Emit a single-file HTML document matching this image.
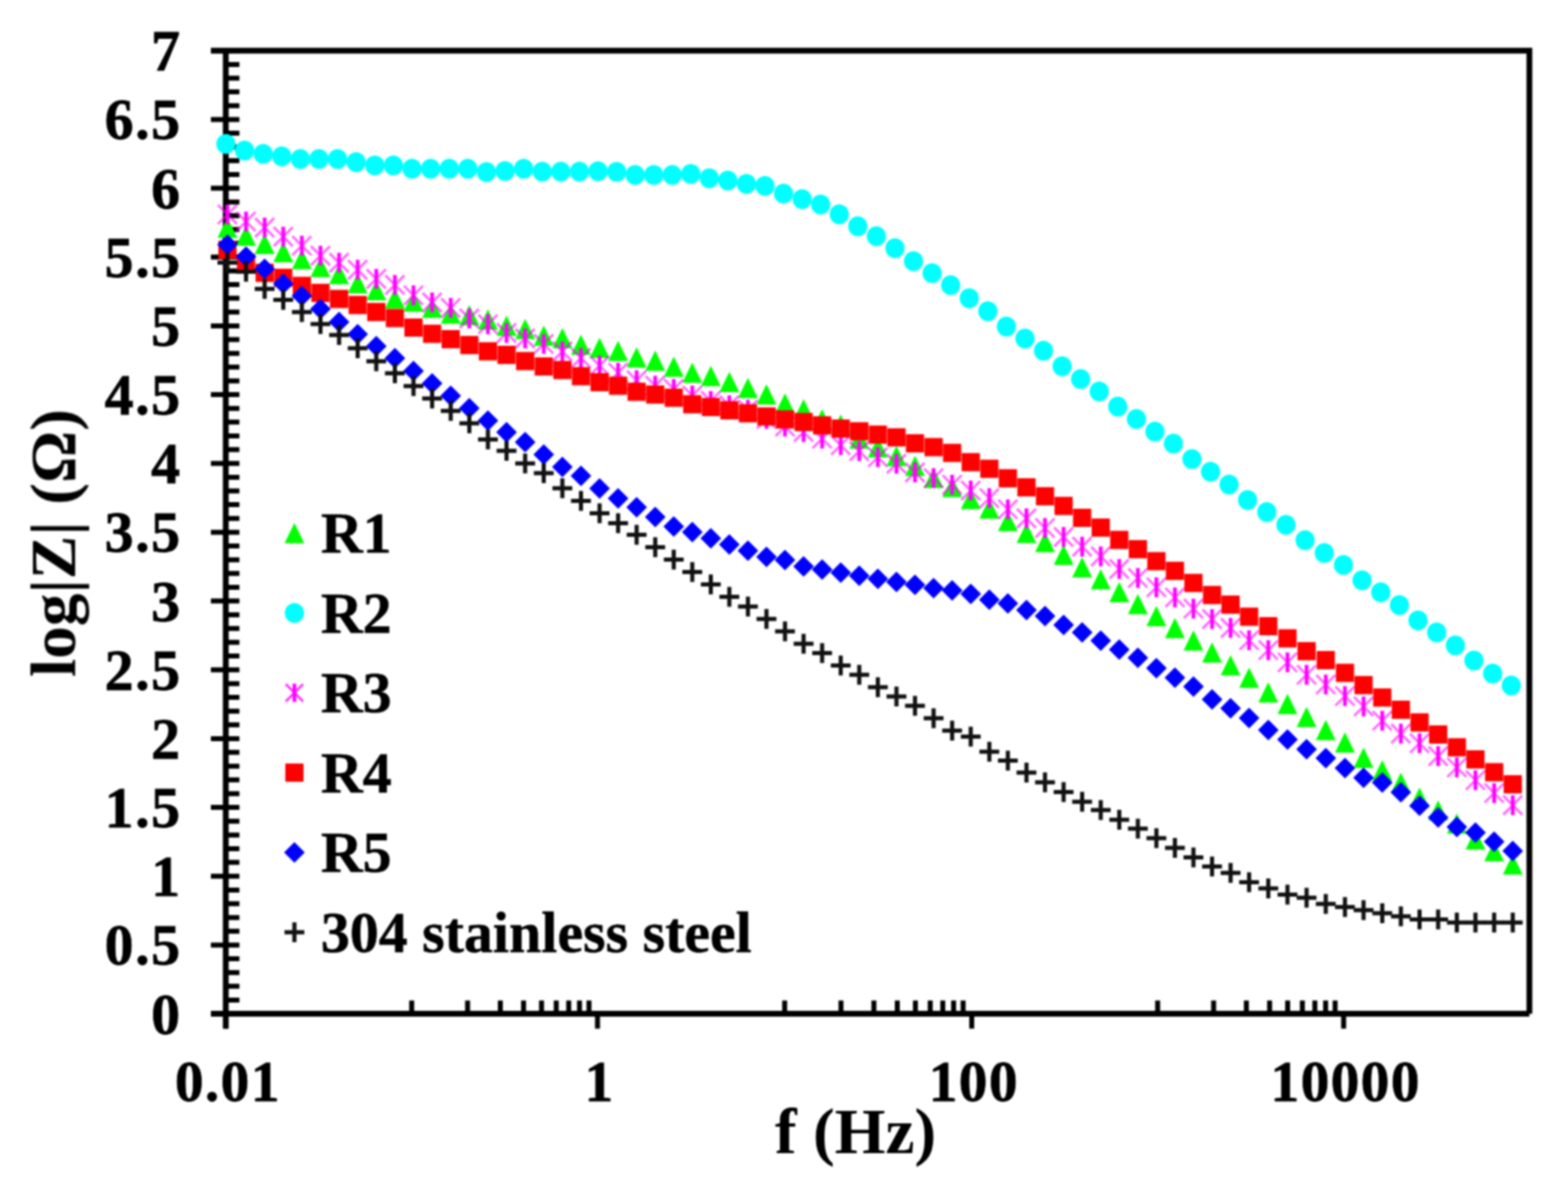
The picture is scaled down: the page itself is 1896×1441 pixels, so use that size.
<!DOCTYPE html>
<html><head><meta charset="utf-8"><title>log|Z| vs f</title>
<style>html,body{margin:0;padding:0;background:#fff;}svg{display:block;}</style>
</head><body>
<svg width="1896" height="1441" viewBox="0 0 1896 1441"><defs><filter id="b" filterUnits="userSpaceOnUse" x="0" y="0" width="1896" height="1441" color-interpolation-filters="sRGB"><feGaussianBlur stdDeviation="1.2"/></filter></defs><rect width="1896" height="1441" fill="#fff"/><g filter="url(#b)"><path d="M255.0 61.2H1849.3V1225.6M255.0 1225.6H1849.3M273.0 61.2V1243.6" stroke="#000" stroke-width="7" fill="none" stroke-linecap="butt"/><path d="M255.0 1225.6H289.5M255.0 1142.4H289.5M255.0 1059.3H289.5M255.0 976.1H289.5M255.0 892.9H289.5M255.0 809.7H289.5M255.0 726.6H289.5M255.0 643.4H289.5M255.0 560.2H289.5M255.0 477.1H289.5M255.0 393.9H289.5M255.0 310.7H289.5M255.0 227.6H289.5M255.0 144.4H289.5M255.0 61.2H289.5M273.0 1209.0H289.5M273.0 1192.3H289.5M273.0 1175.7H289.5M273.0 1159.1H289.5M273.0 1125.8H289.5M273.0 1109.2H289.5M273.0 1092.5H289.5M273.0 1075.9H289.5M273.0 1042.6H289.5M273.0 1026.0H289.5M273.0 1009.4H289.5M273.0 992.7H289.5M273.0 959.5H289.5M273.0 942.8H289.5M273.0 926.2H289.5M273.0 909.6H289.5M273.0 876.3H289.5M273.0 859.7H289.5M273.0 843.0H289.5M273.0 826.4H289.5M273.0 793.1H289.5M273.0 776.5H289.5M273.0 759.8H289.5M273.0 743.2H289.5M273.0 709.9H289.5M273.0 693.3H289.5M273.0 676.7H289.5M273.0 660.0H289.5M273.0 626.8H289.5M273.0 610.1H289.5M273.0 593.5H289.5M273.0 576.9H289.5M273.0 543.6H289.5M273.0 527.0H289.5M273.0 510.3H289.5M273.0 493.7H289.5M273.0 460.4H289.5M273.0 443.8H289.5M273.0 427.2H289.5M273.0 410.5H289.5M273.0 377.3H289.5M273.0 360.6H289.5M273.0 344.0H289.5M273.0 327.4H289.5M273.0 294.1H289.5M273.0 277.5H289.5M273.0 260.8H289.5M273.0 244.2H289.5M273.0 210.9H289.5M273.0 194.3H289.5M273.0 177.7H289.5M273.0 161.0H289.5M273.0 127.8H289.5M273.0 111.1H289.5M273.0 94.5H289.5M273.0 77.9H289.5M273.0 1225.6V1243.6M722.5 1225.6V1243.6M1175.0 1225.6V1243.6M1624.7 1225.6V1243.6M497.8 1225.6V1209.6M565.4 1225.6V1209.6M605.0 1225.6V1209.6M633.1 1225.6V1209.6M654.8 1225.6V1209.6M672.6 1225.6V1209.6M687.7 1225.6V1209.6M700.7 1225.6V1209.6M712.2 1225.6V1209.6M948.8 1225.6V1209.6M1016.9 1225.6V1209.6M1056.7 1225.6V1209.6M1085.0 1225.6V1209.6M1106.9 1225.6V1209.6M1124.8 1225.6V1209.6M1140.0 1225.6V1209.6M1153.1 1225.6V1209.6M1164.6 1225.6V1209.6M1399.8 1225.6V1209.6M1467.5 1225.6V1209.6M1507.1 1225.6V1209.6M1535.2 1225.6V1209.6M1557.0 1225.6V1209.6M1574.8 1225.6V1209.6M1589.9 1225.6V1209.6M1602.9 1225.6V1209.6M1614.4 1225.6V1209.6" stroke="#000" stroke-width="6" fill="none"/><g><path d="M275.0 262.9L287.0 287.4L263.0 287.4Z" fill="#00ff00"/><path d="M297.5 272.6L309.5 297.1L285.5 297.1Z" fill="#00ff00"/><path d="M320.0 282.6L332.0 307.1L308.0 307.1Z" fill="#00ff00"/><path d="M342.5 292.4L354.5 316.9L330.5 316.9Z" fill="#00ff00"/><path d="M365.0 300.9L377.0 325.4L353.0 325.4Z" fill="#00ff00"/><path d="M387.5 310.6L399.5 335.1L375.5 335.1Z" fill="#00ff00"/><path d="M410.0 319.1L422.0 343.6L398.0 343.6Z" fill="#00ff00"/><path d="M432.5 330.1L444.5 354.6L420.5 354.6Z" fill="#00ff00"/><path d="M455.0 338.6L467.0 363.1L443.0 363.1Z" fill="#00ff00"/><path d="M477.5 348.4L489.5 372.9L465.5 372.9Z" fill="#00ff00"/><path d="M500.0 352.2L512.0 376.8L488.0 376.8Z" fill="#00ff00"/><path d="M522.5 359.8L534.5 384.2L510.5 384.2Z" fill="#00ff00"/><path d="M545.0 366.8L557.0 391.2L533.0 391.2Z" fill="#00ff00"/><path d="M567.5 368.8L579.5 393.2L555.5 393.2Z" fill="#00ff00"/><path d="M590.0 374.1L602.0 398.6L578.0 398.6Z" fill="#00ff00"/><path d="M612.5 381.4L624.5 405.9L600.5 405.9Z" fill="#00ff00"/><path d="M635.0 385.4L647.0 409.9L623.0 409.9Z" fill="#00ff00"/><path d="M657.5 393.4L669.5 417.9L645.5 417.9Z" fill="#00ff00"/><path d="M680.0 396.6L692.0 421.1L668.0 421.1Z" fill="#00ff00"/><path d="M702.5 404.6L714.5 429.1L690.5 429.1Z" fill="#00ff00"/><path d="M725.0 408.2L737.0 432.8L713.0 432.8Z" fill="#00ff00"/><path d="M747.4 411.9L759.4 436.4L735.4 436.4Z" fill="#00ff00"/><path d="M769.8 419.8L781.8 444.2L757.8 444.2Z" fill="#00ff00"/><path d="M792.3 423.8L804.3 448.2L780.3 448.2Z" fill="#00ff00"/><path d="M814.7 430.9L826.7 455.4L802.7 455.4Z" fill="#00ff00"/><path d="M837.1 438.2L849.1 462.8L825.1 462.8Z" fill="#00ff00"/><path d="M859.5 442.2L871.5 466.8L847.5 466.8Z" fill="#00ff00"/><path d="M881.9 449.4L893.9 473.9L869.9 473.9Z" fill="#00ff00"/><path d="M904.4 456.8L916.4 481.2L892.4 481.2Z" fill="#00ff00"/><path d="M926.8 464.6L938.8 489.1L914.8 489.1Z" fill="#00ff00"/><path d="M949.2 475.6L961.2 500.1L937.2 500.1Z" fill="#00ff00"/><path d="M971.7 482.6L983.7 507.1L959.7 507.1Z" fill="#00ff00"/><path d="M994.1 494.4L1006.1 519.0L982.1 519.0Z" fill="#00ff00"/><path d="M1016.6 501.0L1028.6 525.5L1004.6 525.5Z" fill="#00ff00"/><path d="M1039.0 518.0L1051.0 542.5L1027.0 542.5Z" fill="#00ff00"/><path d="M1061.5 528.5L1073.5 553.0L1049.5 553.0Z" fill="#00ff00"/><path d="M1084.0 539.1L1096.0 563.6L1072.0 563.6Z" fill="#00ff00"/><path d="M1106.4 551.0L1118.4 575.5L1094.4 575.5Z" fill="#00ff00"/><path d="M1128.9 565.5L1140.9 590.0L1116.9 590.0Z" fill="#00ff00"/><path d="M1151.3 576.6L1163.3 601.1L1139.3 601.1Z" fill="#00ff00"/><path d="M1173.8 591.0L1185.8 615.5L1161.8 615.5Z" fill="#00ff00"/><path d="M1196.3 602.5L1208.3 627.0L1184.3 627.0Z" fill="#00ff00"/><path d="M1218.7 617.8L1230.7 642.2L1206.7 642.2Z" fill="#00ff00"/><path d="M1241.2 632.1L1253.2 656.6L1229.2 656.6Z" fill="#00ff00"/><path d="M1263.6 643.0L1275.6 667.5L1251.6 667.5Z" fill="#00ff00"/><path d="M1286.1 658.4L1298.1 682.9L1274.1 682.9Z" fill="#00ff00"/><path d="M1308.5 673.6L1320.5 698.1L1296.5 698.1Z" fill="#00ff00"/><path d="M1331.0 688.1L1343.0 712.6L1319.0 712.6Z" fill="#00ff00"/><path d="M1353.4 703.5L1365.4 728.0L1341.4 728.0Z" fill="#00ff00"/><path d="M1375.9 717.9L1387.9 742.4L1363.9 742.4Z" fill="#00ff00"/><path d="M1398.3 732.5L1410.3 757.0L1386.3 757.0Z" fill="#00ff00"/><path d="M1420.7 746.9L1432.7 771.4L1408.7 771.4Z" fill="#00ff00"/><path d="M1443.1 762.0L1455.1 786.5L1431.1 786.5Z" fill="#00ff00"/><path d="M1465.6 776.4L1477.6 800.9L1453.6 800.9Z" fill="#00ff00"/><path d="M1488.0 792.0L1500.0 816.5L1476.0 816.5Z" fill="#00ff00"/><path d="M1510.4 807.0L1522.4 831.5L1498.4 831.5Z" fill="#00ff00"/><path d="M1533.6 824.8L1545.6 849.2L1521.6 849.2Z" fill="#00ff00"/><path d="M1556.8 838.8L1568.8 863.2L1544.8 863.2Z" fill="#00ff00"/><path d="M1579.9 854.6L1591.9 879.1L1567.9 879.1Z" fill="#00ff00"/><path d="M1603.1 870.2L1615.1 894.8L1591.1 894.8Z" fill="#00ff00"/><path d="M1626.3 885.2L1638.3 909.8L1614.3 909.8Z" fill="#00ff00"/><path d="M1648.8 903.8L1660.8 928.2L1636.8 928.2Z" fill="#00ff00"/><path d="M1671.4 919.0L1683.4 943.5L1659.4 943.5Z" fill="#00ff00"/><path d="M1693.9 933.9L1705.9 958.4L1681.9 958.4Z" fill="#00ff00"/><path d="M1716.5 952.0L1728.5 976.5L1704.5 976.5Z" fill="#00ff00"/><path d="M1739.0 967.5L1751.0 992.0L1727.0 992.0Z" fill="#00ff00"/><path d="M1761.6 983.2L1773.6 1007.8L1749.6 1007.8Z" fill="#00ff00"/><path d="M1784.1 1002.5L1796.1 1027.0L1772.1 1027.0Z" fill="#00ff00"/><path d="M1806.7 1016.8L1818.7 1041.3L1794.7 1041.3Z" fill="#00ff00"/><path d="M1829.2 1032.8L1841.2 1057.2L1817.2 1057.2Z" fill="#00ff00"/><ellipse cx="273.2" cy="174.0" rx="11.6" ry="12" fill="#00ffff"/><ellipse cx="295.7" cy="182.0" rx="11.6" ry="12" fill="#00ffff"/><ellipse cx="318.2" cy="186.0" rx="11.6" ry="12" fill="#00ffff"/><ellipse cx="340.7" cy="189.0" rx="11.6" ry="12" fill="#00ffff"/><ellipse cx="363.2" cy="192.3" rx="11.6" ry="12" fill="#00ffff"/><ellipse cx="385.7" cy="192.3" rx="11.6" ry="12" fill="#00ffff"/><ellipse cx="408.2" cy="192.3" rx="11.6" ry="12" fill="#00ffff"/><ellipse cx="430.7" cy="196.1" rx="11.6" ry="12" fill="#00ffff"/><ellipse cx="453.2" cy="200.0" rx="11.6" ry="12" fill="#00ffff"/><ellipse cx="475.7" cy="200.0" rx="11.6" ry="12" fill="#00ffff"/><ellipse cx="498.2" cy="204.0" rx="11.6" ry="12" fill="#00ffff"/><ellipse cx="520.7" cy="204.1" rx="11.6" ry="12" fill="#00ffff"/><ellipse cx="543.2" cy="204.1" rx="11.6" ry="12" fill="#00ffff"/><ellipse cx="565.7" cy="204.1" rx="11.6" ry="12" fill="#00ffff"/><ellipse cx="588.2" cy="208.0" rx="11.6" ry="12" fill="#00ffff"/><ellipse cx="610.7" cy="206.7" rx="11.6" ry="12" fill="#00ffff"/><ellipse cx="633.2" cy="204.1" rx="11.6" ry="12" fill="#00ffff"/><ellipse cx="655.7" cy="207.5" rx="11.6" ry="12" fill="#00ffff"/><ellipse cx="678.2" cy="207.5" rx="11.6" ry="12" fill="#00ffff"/><ellipse cx="700.7" cy="207.6" rx="11.6" ry="12" fill="#00ffff"/><ellipse cx="723.2" cy="207.0" rx="11.6" ry="12" fill="#00ffff"/><ellipse cx="745.6" cy="207.8" rx="11.6" ry="12" fill="#00ffff"/><ellipse cx="768.0" cy="211.6" rx="11.6" ry="12" fill="#00ffff"/><ellipse cx="790.5" cy="211.6" rx="11.6" ry="12" fill="#00ffff"/><ellipse cx="812.9" cy="211.6" rx="11.6" ry="12" fill="#00ffff"/><ellipse cx="835.3" cy="210.3" rx="11.6" ry="12" fill="#00ffff"/><ellipse cx="857.7" cy="215.6" rx="11.6" ry="12" fill="#00ffff"/><ellipse cx="880.1" cy="218.2" rx="11.6" ry="12" fill="#00ffff"/><ellipse cx="902.6" cy="222.2" rx="11.6" ry="12" fill="#00ffff"/><ellipse cx="925.0" cy="224.8" rx="11.6" ry="12" fill="#00ffff"/><ellipse cx="947.4" cy="234.1" rx="11.6" ry="12" fill="#00ffff"/><ellipse cx="969.9" cy="240.7" rx="11.6" ry="12" fill="#00ffff"/><ellipse cx="992.3" cy="247.2" rx="11.6" ry="12" fill="#00ffff"/><ellipse cx="1014.8" cy="259.1" rx="11.6" ry="12" fill="#00ffff"/><ellipse cx="1037.2" cy="273.6" rx="11.6" ry="12" fill="#00ffff"/><ellipse cx="1059.7" cy="285.5" rx="11.6" ry="12" fill="#00ffff"/><ellipse cx="1082.2" cy="300.0" rx="11.6" ry="12" fill="#00ffff"/><ellipse cx="1104.6" cy="315.8" rx="11.6" ry="12" fill="#00ffff"/><ellipse cx="1127.1" cy="330.3" rx="11.6" ry="12" fill="#00ffff"/><ellipse cx="1149.5" cy="344.8" rx="11.6" ry="12" fill="#00ffff"/><ellipse cx="1172.0" cy="360.6" rx="11.6" ry="12" fill="#00ffff"/><ellipse cx="1194.5" cy="376.3" rx="11.6" ry="12" fill="#00ffff"/><ellipse cx="1216.9" cy="394.8" rx="11.6" ry="12" fill="#00ffff"/><ellipse cx="1239.4" cy="409.3" rx="11.6" ry="12" fill="#00ffff"/><ellipse cx="1261.8" cy="423.9" rx="11.6" ry="12" fill="#00ffff"/><ellipse cx="1284.3" cy="442.7" rx="11.6" ry="12" fill="#00ffff"/><ellipse cx="1306.7" cy="458.3" rx="11.6" ry="12" fill="#00ffff"/><ellipse cx="1329.2" cy="473.3" rx="11.6" ry="12" fill="#00ffff"/><ellipse cx="1351.6" cy="491.6" rx="11.6" ry="12" fill="#00ffff"/><ellipse cx="1374.1" cy="506.6" rx="11.6" ry="12" fill="#00ffff"/><ellipse cx="1396.5" cy="521.8" rx="11.6" ry="12" fill="#00ffff"/><ellipse cx="1418.9" cy="536.3" rx="11.6" ry="12" fill="#00ffff"/><ellipse cx="1441.3" cy="555.1" rx="11.6" ry="12" fill="#00ffff"/><ellipse cx="1463.8" cy="570.3" rx="11.6" ry="12" fill="#00ffff"/><ellipse cx="1486.2" cy="585.7" rx="11.6" ry="12" fill="#00ffff"/><ellipse cx="1508.6" cy="604.4" rx="11.6" ry="12" fill="#00ffff"/><ellipse cx="1531.8" cy="618.9" rx="11.6" ry="12" fill="#00ffff"/><ellipse cx="1555.0" cy="634.4" rx="11.6" ry="12" fill="#00ffff"/><ellipse cx="1578.1" cy="652.9" rx="11.6" ry="12" fill="#00ffff"/><ellipse cx="1601.3" cy="668.4" rx="11.6" ry="12" fill="#00ffff"/><ellipse cx="1624.5" cy="683.0" rx="11.6" ry="12" fill="#00ffff"/><ellipse cx="1647.0" cy="701.5" rx="11.6" ry="12" fill="#00ffff"/><ellipse cx="1669.6" cy="716.0" rx="11.6" ry="12" fill="#00ffff"/><ellipse cx="1692.1" cy="731.6" rx="11.6" ry="12" fill="#00ffff"/><ellipse cx="1714.7" cy="750.0" rx="11.6" ry="12" fill="#00ffff"/><ellipse cx="1737.2" cy="764.6" rx="11.6" ry="12" fill="#00ffff"/><ellipse cx="1759.8" cy="780.2" rx="11.6" ry="12" fill="#00ffff"/><ellipse cx="1782.3" cy="798.6" rx="11.6" ry="12" fill="#00ffff"/><ellipse cx="1804.9" cy="814.2" rx="11.6" ry="12" fill="#00ffff"/><ellipse cx="1827.4" cy="828.7" rx="11.6" ry="12" fill="#00ffff"/><path d="M263.5 247.8L286.5 270.8M286.5 247.8L263.5 270.8" stroke="#ff00ff" stroke-width="3" fill="none" opacity="0.6"/><path d="M275.0 247.3V271.3" stroke="#ff00ff" stroke-width="4.5" fill="none"/><path d="M286.0 256.3L309.0 279.3M309.0 256.3L286.0 279.3" stroke="#ff00ff" stroke-width="3" fill="none" opacity="0.6"/><path d="M297.5 255.8V279.8" stroke="#ff00ff" stroke-width="4.5" fill="none"/><path d="M308.5 263.6L331.5 286.6M331.5 263.6L308.5 286.6" stroke="#ff00ff" stroke-width="3" fill="none" opacity="0.6"/><path d="M320.0 263.1V287.1" stroke="#ff00ff" stroke-width="4.5" fill="none"/><path d="M331.0 274.6L354.0 297.6M354.0 274.6L331.0 297.6" stroke="#ff00ff" stroke-width="3" fill="none" opacity="0.6"/><path d="M342.5 274.1V298.1" stroke="#ff00ff" stroke-width="4.5" fill="none"/><path d="M353.5 285.5L376.5 308.5M376.5 285.5L353.5 308.5" stroke="#ff00ff" stroke-width="3" fill="none" opacity="0.6"/><path d="M365.0 285.0V309.0" stroke="#ff00ff" stroke-width="4.5" fill="none"/><path d="M376.0 297.6L399.0 320.6M399.0 297.6L376.0 320.6" stroke="#ff00ff" stroke-width="3" fill="none" opacity="0.6"/><path d="M387.5 297.1V321.1" stroke="#ff00ff" stroke-width="4.5" fill="none"/><path d="M398.5 306.1L421.5 329.1M421.5 306.1L398.5 329.1" stroke="#ff00ff" stroke-width="3" fill="none" opacity="0.6"/><path d="M410.0 305.6V329.6" stroke="#ff00ff" stroke-width="4.5" fill="none"/><path d="M421.0 314.6L444.0 337.6M444.0 314.6L421.0 337.6" stroke="#ff00ff" stroke-width="3" fill="none" opacity="0.6"/><path d="M432.5 314.1V338.1" stroke="#ff00ff" stroke-width="4.5" fill="none"/><path d="M443.5 325.6L466.5 348.6M466.5 325.6L443.5 348.6" stroke="#ff00ff" stroke-width="3" fill="none" opacity="0.6"/><path d="M455.0 325.1V349.1" stroke="#ff00ff" stroke-width="4.5" fill="none"/><path d="M466.0 332.9L489.0 355.9M489.0 332.9L466.0 355.9" stroke="#ff00ff" stroke-width="3" fill="none" opacity="0.6"/><path d="M477.5 332.4V356.4" stroke="#ff00ff" stroke-width="4.5" fill="none"/><path d="M488.5 345.5L511.5 368.5M511.5 345.5L488.5 368.5" stroke="#ff00ff" stroke-width="3" fill="none" opacity="0.6"/><path d="M500.0 345.0V369.0" stroke="#ff00ff" stroke-width="4.5" fill="none"/><path d="M511.0 354.1L534.0 377.1M534.0 354.1L511.0 377.1" stroke="#ff00ff" stroke-width="3" fill="none" opacity="0.6"/><path d="M522.5 353.6V377.6" stroke="#ff00ff" stroke-width="4.5" fill="none"/><path d="M533.5 360.7L556.5 383.7M556.5 360.7L533.5 383.7" stroke="#ff00ff" stroke-width="3" fill="none" opacity="0.6"/><path d="M545.0 360.2V384.2" stroke="#ff00ff" stroke-width="4.5" fill="none"/><path d="M556.0 373.5L579.0 396.5M579.0 373.5L556.0 396.5" stroke="#ff00ff" stroke-width="3" fill="none" opacity="0.6"/><path d="M567.5 373.0V397.0" stroke="#ff00ff" stroke-width="4.5" fill="none"/><path d="M578.5 380.5L601.5 403.5M601.5 380.5L578.5 403.5" stroke="#ff00ff" stroke-width="3" fill="none" opacity="0.6"/><path d="M590.0 380.0V404.0" stroke="#ff00ff" stroke-width="4.5" fill="none"/><path d="M601.0 391.0L624.0 414.0M624.0 391.0L601.0 414.0" stroke="#ff00ff" stroke-width="3" fill="none" opacity="0.6"/><path d="M612.5 390.5V414.5" stroke="#ff00ff" stroke-width="4.5" fill="none"/><path d="M623.5 397.6L646.5 420.6M646.5 397.6L623.5 420.6" stroke="#ff00ff" stroke-width="3" fill="none" opacity="0.6"/><path d="M635.0 397.1V421.1" stroke="#ff00ff" stroke-width="4.5" fill="none"/><path d="M646.0 404.2L669.0 427.2M669.0 404.2L646.0 427.2" stroke="#ff00ff" stroke-width="3" fill="none" opacity="0.6"/><path d="M657.5 403.7V427.7" stroke="#ff00ff" stroke-width="4.5" fill="none"/><path d="M668.5 413.4L691.5 436.4M691.5 413.4L668.5 436.4" stroke="#ff00ff" stroke-width="3" fill="none" opacity="0.6"/><path d="M680.0 412.9V436.9" stroke="#ff00ff" stroke-width="4.5" fill="none"/><path d="M691.0 421.3L714.0 444.3M714.0 421.3L691.0 444.3" stroke="#ff00ff" stroke-width="3" fill="none" opacity="0.6"/><path d="M702.5 420.8V444.8" stroke="#ff00ff" stroke-width="4.5" fill="none"/><path d="M713.5 430.5L736.5 453.5M736.5 430.5L713.5 453.5" stroke="#ff00ff" stroke-width="3" fill="none" opacity="0.6"/><path d="M725.0 430.0V454.0" stroke="#ff00ff" stroke-width="4.5" fill="none"/><path d="M735.9 439.0L758.9 462.0M758.9 439.0L735.9 462.0" stroke="#ff00ff" stroke-width="3" fill="none" opacity="0.6"/><path d="M747.4 438.5V462.5" stroke="#ff00ff" stroke-width="4.5" fill="none"/><path d="M758.3 448.2L781.3 471.2M781.3 448.2L758.3 471.2" stroke="#ff00ff" stroke-width="3" fill="none" opacity="0.6"/><path d="M769.8 447.7V471.7" stroke="#ff00ff" stroke-width="4.5" fill="none"/><path d="M780.8 454.8L803.8 477.8M803.8 454.8L780.8 477.8" stroke="#ff00ff" stroke-width="3" fill="none" opacity="0.6"/><path d="M792.3 454.3V478.3" stroke="#ff00ff" stroke-width="4.5" fill="none"/><path d="M803.2 458.8L826.2 481.8M826.2 458.8L803.2 481.8" stroke="#ff00ff" stroke-width="3" fill="none" opacity="0.6"/><path d="M814.7 458.3V482.3" stroke="#ff00ff" stroke-width="4.5" fill="none"/><path d="M825.6 466.7L848.6 489.7M848.6 466.7L825.6 489.7" stroke="#ff00ff" stroke-width="3" fill="none" opacity="0.6"/><path d="M837.1 466.2V490.2" stroke="#ff00ff" stroke-width="4.5" fill="none"/><path d="M848.0 473.3L871.0 496.3M871.0 473.3L848.0 496.3" stroke="#ff00ff" stroke-width="3" fill="none" opacity="0.6"/><path d="M859.5 472.8V496.8" stroke="#ff00ff" stroke-width="4.5" fill="none"/><path d="M870.4 478.5L893.4 501.5M893.4 478.5L870.4 501.5" stroke="#ff00ff" stroke-width="3" fill="none" opacity="0.6"/><path d="M881.9 478.0V502.0" stroke="#ff00ff" stroke-width="4.5" fill="none"/><path d="M892.9 483.8L915.9 506.8M915.9 483.8L892.9 506.8" stroke="#ff00ff" stroke-width="3" fill="none" opacity="0.6"/><path d="M904.4 483.3V507.3" stroke="#ff00ff" stroke-width="4.5" fill="none"/><path d="M915.3 494.9L938.3 517.9M938.3 494.9L915.3 517.9" stroke="#ff00ff" stroke-width="3" fill="none" opacity="0.6"/><path d="M926.8 494.4V518.4" stroke="#ff00ff" stroke-width="4.5" fill="none"/><path d="M937.7 504.2L960.7 527.2M960.7 504.2L937.7 527.2" stroke="#ff00ff" stroke-width="3" fill="none" opacity="0.6"/><path d="M949.2 503.7V527.7" stroke="#ff00ff" stroke-width="4.5" fill="none"/><path d="M960.2 510.8L983.2 533.8M983.2 510.8L960.2 533.8" stroke="#ff00ff" stroke-width="3" fill="none" opacity="0.6"/><path d="M971.7 510.3V534.3" stroke="#ff00ff" stroke-width="4.5" fill="none"/><path d="M982.6 518.8L1005.6 541.8M1005.6 518.8L982.6 541.8" stroke="#ff00ff" stroke-width="3" fill="none" opacity="0.6"/><path d="M994.1 518.3V542.3" stroke="#ff00ff" stroke-width="4.5" fill="none"/><path d="M1005.1 526.7L1028.1 549.7M1028.1 526.7L1005.1 549.7" stroke="#ff00ff" stroke-width="3" fill="none" opacity="0.6"/><path d="M1016.6 526.2V550.2" stroke="#ff00ff" stroke-width="4.5" fill="none"/><path d="M1027.5 533.9L1050.5 556.9M1050.5 533.9L1027.5 556.9" stroke="#ff00ff" stroke-width="3" fill="none" opacity="0.6"/><path d="M1039.0 533.4V557.4" stroke="#ff00ff" stroke-width="4.5" fill="none"/><path d="M1050.0 541.2L1073.0 564.2M1073.0 541.2L1050.0 564.2" stroke="#ff00ff" stroke-width="3" fill="none" opacity="0.6"/><path d="M1061.5 540.7V564.7" stroke="#ff00ff" stroke-width="4.5" fill="none"/><path d="M1072.5 549.1L1095.5 572.1M1095.5 549.1L1072.5 572.1" stroke="#ff00ff" stroke-width="3" fill="none" opacity="0.6"/><path d="M1084.0 548.6V572.6" stroke="#ff00ff" stroke-width="4.5" fill="none"/><path d="M1094.9 559.6L1117.9 582.6M1117.9 559.6L1094.9 582.6" stroke="#ff00ff" stroke-width="3" fill="none" opacity="0.6"/><path d="M1106.4 559.1V583.1" stroke="#ff00ff" stroke-width="4.5" fill="none"/><path d="M1117.4 566.5L1140.4 589.5M1140.4 566.5L1117.4 589.5" stroke="#ff00ff" stroke-width="3" fill="none" opacity="0.6"/><path d="M1128.9 566.0V590.0" stroke="#ff00ff" stroke-width="4.5" fill="none"/><path d="M1139.8 574.5L1162.8 597.5M1162.8 574.5L1139.8 597.5" stroke="#ff00ff" stroke-width="3" fill="none" opacity="0.6"/><path d="M1151.3 574.0V598.0" stroke="#ff00ff" stroke-width="4.5" fill="none"/><path d="M1162.3 581.5L1185.3 604.5M1185.3 581.5L1162.3 604.5" stroke="#ff00ff" stroke-width="3" fill="none" opacity="0.6"/><path d="M1173.8 581.0V605.0" stroke="#ff00ff" stroke-width="4.5" fill="none"/><path d="M1184.8 590.7L1207.8 613.7M1207.8 590.7L1184.8 613.7" stroke="#ff00ff" stroke-width="3" fill="none" opacity="0.6"/><path d="M1196.3 590.2V614.2" stroke="#ff00ff" stroke-width="4.5" fill="none"/><path d="M1207.2 604.3L1230.2 627.3M1230.2 604.3L1207.2 627.3" stroke="#ff00ff" stroke-width="3" fill="none" opacity="0.6"/><path d="M1218.7 603.8V627.8" stroke="#ff00ff" stroke-width="4.5" fill="none"/><path d="M1229.7 615.1L1252.7 638.1M1252.7 615.1L1229.7 638.1" stroke="#ff00ff" stroke-width="3" fill="none" opacity="0.6"/><path d="M1241.2 614.6V638.6" stroke="#ff00ff" stroke-width="4.5" fill="none"/><path d="M1252.1 626.8L1275.1 649.8M1275.1 626.8L1252.1 649.8" stroke="#ff00ff" stroke-width="3" fill="none" opacity="0.6"/><path d="M1263.6 626.3V650.3" stroke="#ff00ff" stroke-width="4.5" fill="none"/><path d="M1274.6 637.6L1297.6 660.6M1297.6 637.6L1274.6 660.6" stroke="#ff00ff" stroke-width="3" fill="none" opacity="0.6"/><path d="M1286.1 637.1V661.1" stroke="#ff00ff" stroke-width="4.5" fill="none"/><path d="M1297.0 649.4L1320.0 672.4M1320.0 649.4L1297.0 672.4" stroke="#ff00ff" stroke-width="3" fill="none" opacity="0.6"/><path d="M1308.5 648.9V672.9" stroke="#ff00ff" stroke-width="4.5" fill="none"/><path d="M1319.5 661.1L1342.5 684.1M1342.5 661.1L1319.5 684.1" stroke="#ff00ff" stroke-width="3" fill="none" opacity="0.6"/><path d="M1331.0 660.6V684.6" stroke="#ff00ff" stroke-width="4.5" fill="none"/><path d="M1341.9 676.4L1364.9 699.4M1364.9 676.4L1341.9 699.4" stroke="#ff00ff" stroke-width="3" fill="none" opacity="0.6"/><path d="M1353.4 675.9V699.9" stroke="#ff00ff" stroke-width="4.5" fill="none"/><path d="M1364.4 687.2L1387.4 710.2M1387.4 687.2L1364.4 710.2" stroke="#ff00ff" stroke-width="3" fill="none" opacity="0.6"/><path d="M1375.9 686.7V710.7" stroke="#ff00ff" stroke-width="4.5" fill="none"/><path d="M1386.8 698.5L1409.8 721.5M1409.8 698.5L1386.8 721.5" stroke="#ff00ff" stroke-width="3" fill="none" opacity="0.6"/><path d="M1398.3 698.0V722.0" stroke="#ff00ff" stroke-width="4.5" fill="none"/><path d="M1409.2 710.7L1432.2 733.7M1432.2 710.7L1409.2 733.7" stroke="#ff00ff" stroke-width="3" fill="none" opacity="0.6"/><path d="M1420.7 710.2V734.2" stroke="#ff00ff" stroke-width="4.5" fill="none"/><path d="M1431.6 724.3L1454.6 747.3M1454.6 724.3L1431.6 747.3" stroke="#ff00ff" stroke-width="3" fill="none" opacity="0.6"/><path d="M1443.1 723.8V747.8" stroke="#ff00ff" stroke-width="4.5" fill="none"/><path d="M1454.1 736.9L1477.1 759.9M1477.1 736.9L1454.1 759.9" stroke="#ff00ff" stroke-width="3" fill="none" opacity="0.6"/><path d="M1465.6 736.4V760.4" stroke="#ff00ff" stroke-width="4.5" fill="none"/><path d="M1476.5 747.6L1499.5 770.6M1499.5 747.6L1476.5 770.6" stroke="#ff00ff" stroke-width="3" fill="none" opacity="0.6"/><path d="M1488.0 747.1V771.1" stroke="#ff00ff" stroke-width="4.5" fill="none"/><path d="M1498.9 762.5L1521.9 785.5M1521.9 762.5L1498.9 785.5" stroke="#ff00ff" stroke-width="3" fill="none" opacity="0.6"/><path d="M1510.4 762.0V786.0" stroke="#ff00ff" stroke-width="4.5" fill="none"/><path d="M1522.1 774.5L1545.1 797.5M1545.1 774.5L1522.1 797.5" stroke="#ff00ff" stroke-width="3" fill="none" opacity="0.6"/><path d="M1533.6 774.0V798.0" stroke="#ff00ff" stroke-width="4.5" fill="none"/><path d="M1545.3 789.2L1568.3 812.2M1568.3 789.2L1545.3 812.2" stroke="#ff00ff" stroke-width="3" fill="none" opacity="0.6"/><path d="M1556.8 788.7V812.7" stroke="#ff00ff" stroke-width="4.5" fill="none"/><path d="M1568.4 804.2L1591.4 827.2M1591.4 804.2L1568.4 827.2" stroke="#ff00ff" stroke-width="3" fill="none" opacity="0.6"/><path d="M1579.9 803.7V827.7" stroke="#ff00ff" stroke-width="4.5" fill="none"/><path d="M1591.6 816.0L1614.6 839.0M1614.6 816.0L1591.6 839.0" stroke="#ff00ff" stroke-width="3" fill="none" opacity="0.6"/><path d="M1603.1 815.5V839.5" stroke="#ff00ff" stroke-width="4.5" fill="none"/><path d="M1614.8 830.0L1637.8 853.0M1637.8 830.0L1614.8 853.0" stroke="#ff00ff" stroke-width="3" fill="none" opacity="0.6"/><path d="M1626.3 829.5V853.5" stroke="#ff00ff" stroke-width="4.5" fill="none"/><path d="M1637.3 842.5L1660.3 865.5M1660.3 842.5L1637.3 865.5" stroke="#ff00ff" stroke-width="3" fill="none" opacity="0.6"/><path d="M1648.8 842.0V866.0" stroke="#ff00ff" stroke-width="4.5" fill="none"/><path d="M1659.9 859.8L1682.9 882.8M1682.9 859.8L1659.9 882.8" stroke="#ff00ff" stroke-width="3" fill="none" opacity="0.6"/><path d="M1671.4 859.3V883.3" stroke="#ff00ff" stroke-width="4.5" fill="none"/><path d="M1682.4 875.4L1705.4 898.4M1705.4 875.4L1682.4 898.4" stroke="#ff00ff" stroke-width="3" fill="none" opacity="0.6"/><path d="M1693.9 874.9V898.9" stroke="#ff00ff" stroke-width="4.5" fill="none"/><path d="M1705.0 887.0L1728.0 910.0M1728.0 887.0L1705.0 910.0" stroke="#ff00ff" stroke-width="3" fill="none" opacity="0.6"/><path d="M1716.5 886.5V910.5" stroke="#ff00ff" stroke-width="4.5" fill="none"/><path d="M1727.5 902.6L1750.5 925.6M1750.5 902.6L1727.5 925.6" stroke="#ff00ff" stroke-width="3" fill="none" opacity="0.6"/><path d="M1739.0 902.1V926.1" stroke="#ff00ff" stroke-width="4.5" fill="none"/><path d="M1750.1 916.2L1773.1 939.2M1773.1 916.2L1750.1 939.2" stroke="#ff00ff" stroke-width="3" fill="none" opacity="0.6"/><path d="M1761.6 915.7V939.7" stroke="#ff00ff" stroke-width="4.5" fill="none"/><path d="M1772.6 931.7L1795.6 954.7M1795.6 931.7L1772.6 954.7" stroke="#ff00ff" stroke-width="3" fill="none" opacity="0.6"/><path d="M1784.1 931.2V955.2" stroke="#ff00ff" stroke-width="4.5" fill="none"/><path d="M1795.2 947.3L1818.2 970.3M1818.2 947.3L1795.2 970.3" stroke="#ff00ff" stroke-width="3" fill="none" opacity="0.6"/><path d="M1806.7 946.8V970.8" stroke="#ff00ff" stroke-width="4.5" fill="none"/><path d="M1817.7 961.9L1840.7 984.9M1840.7 961.9L1817.7 984.9" stroke="#ff00ff" stroke-width="3" fill="none" opacity="0.6"/><path d="M1829.2 961.4V985.4" stroke="#ff00ff" stroke-width="4.5" fill="none"/><rect x="264.0" y="291.0" width="22" height="22" fill="#ff0000"/><rect x="286.5" y="307.0" width="22" height="22" fill="#ff0000"/><rect x="309.0" y="318.8" width="22" height="22" fill="#ff0000"/><rect x="331.5" y="324.9" width="22" height="22" fill="#ff0000"/><rect x="354.0" y="334.6" width="22" height="22" fill="#ff0000"/><rect x="376.5" y="343.1" width="22" height="22" fill="#ff0000"/><rect x="399.0" y="350.4" width="22" height="22" fill="#ff0000"/><rect x="421.5" y="357.7" width="22" height="22" fill="#ff0000"/><rect x="444.0" y="366.2" width="22" height="22" fill="#ff0000"/><rect x="466.5" y="373.5" width="22" height="22" fill="#ff0000"/><rect x="489.0" y="385.0" width="22" height="22" fill="#ff0000"/><rect x="511.5" y="392.5" width="22" height="22" fill="#ff0000"/><rect x="534.0" y="399.0" width="22" height="22" fill="#ff0000"/><rect x="556.5" y="406.1" width="22" height="22" fill="#ff0000"/><rect x="579.0" y="413.7" width="22" height="22" fill="#ff0000"/><rect x="601.5" y="418.0" width="22" height="22" fill="#ff0000"/><rect x="624.0" y="425.5" width="22" height="22" fill="#ff0000"/><rect x="646.5" y="432.0" width="22" height="22" fill="#ff0000"/><rect x="669.0" y="436.3" width="22" height="22" fill="#ff0000"/><rect x="691.5" y="443.8" width="22" height="22" fill="#ff0000"/><rect x="714.0" y="451.0" width="22" height="22" fill="#ff0000"/><rect x="736.4" y="455.3" width="22" height="22" fill="#ff0000"/><rect x="758.8" y="462.6" width="22" height="22" fill="#ff0000"/><rect x="781.3" y="465.9" width="22" height="22" fill="#ff0000"/><rect x="803.7" y="469.8" width="22" height="22" fill="#ff0000"/><rect x="826.1" y="477.7" width="22" height="22" fill="#ff0000"/><rect x="848.5" y="481.0" width="22" height="22" fill="#ff0000"/><rect x="870.9" y="485.0" width="22" height="22" fill="#ff0000"/><rect x="893.4" y="488.6" width="22" height="22" fill="#ff0000"/><rect x="915.8" y="492.5" width="22" height="22" fill="#ff0000"/><rect x="938.2" y="496.0" width="22" height="22" fill="#ff0000"/><rect x="960.7" y="499.2" width="22" height="22" fill="#ff0000"/><rect x="983.1" y="503.2" width="22" height="22" fill="#ff0000"/><rect x="1005.6" y="507.1" width="22" height="22" fill="#ff0000"/><rect x="1028.0" y="510.4" width="22" height="22" fill="#ff0000"/><rect x="1050.5" y="514.4" width="22" height="22" fill="#ff0000"/><rect x="1073.0" y="517.7" width="22" height="22" fill="#ff0000"/><rect x="1095.4" y="524.9" width="22" height="22" fill="#ff0000"/><rect x="1117.9" y="529.5" width="22" height="22" fill="#ff0000"/><rect x="1140.3" y="536.5" width="22" height="22" fill="#ff0000"/><rect x="1162.8" y="547.7" width="22" height="22" fill="#ff0000"/><rect x="1185.3" y="555.7" width="22" height="22" fill="#ff0000"/><rect x="1207.7" y="567.2" width="22" height="22" fill="#ff0000"/><rect x="1230.2" y="578.1" width="22" height="22" fill="#ff0000"/><rect x="1252.6" y="588.9" width="22" height="22" fill="#ff0000"/><rect x="1275.1" y="600.6" width="22" height="22" fill="#ff0000"/><rect x="1297.5" y="615.0" width="22" height="22" fill="#ff0000"/><rect x="1320.0" y="626.8" width="22" height="22" fill="#ff0000"/><rect x="1342.4" y="641.7" width="22" height="22" fill="#ff0000"/><rect x="1364.9" y="652.9" width="22" height="22" fill="#ff0000"/><rect x="1387.3" y="667.4" width="22" height="22" fill="#ff0000"/><rect x="1409.7" y="679.1" width="22" height="22" fill="#ff0000"/><rect x="1432.1" y="693.7" width="22" height="22" fill="#ff0000"/><rect x="1454.6" y="708.3" width="22" height="22" fill="#ff0000"/><rect x="1477.0" y="719.9" width="22" height="22" fill="#ff0000"/><rect x="1499.4" y="734.5" width="22" height="22" fill="#ff0000"/><rect x="1522.6" y="746.0" width="22" height="22" fill="#ff0000"/><rect x="1545.8" y="760.7" width="22" height="22" fill="#ff0000"/><rect x="1568.9" y="776.2" width="22" height="22" fill="#ff0000"/><rect x="1592.1" y="787.0" width="22" height="22" fill="#ff0000"/><rect x="1615.3" y="802.4" width="22" height="22" fill="#ff0000"/><rect x="1637.8" y="817.2" width="22" height="22" fill="#ff0000"/><rect x="1660.4" y="832.2" width="22" height="22" fill="#ff0000"/><rect x="1682.9" y="847.0" width="22" height="22" fill="#ff0000"/><rect x="1705.5" y="862.3" width="22" height="22" fill="#ff0000"/><rect x="1728.0" y="876.9" width="22" height="22" fill="#ff0000"/><rect x="1750.6" y="892.4" width="22" height="22" fill="#ff0000"/><rect x="1773.1" y="907.0" width="22" height="22" fill="#ff0000"/><rect x="1795.7" y="922.5" width="22" height="22" fill="#ff0000"/><rect x="1818.2" y="937.1" width="22" height="22" fill="#ff0000"/><path d="M275.0 283.3L287.5 295.8L275.0 308.3L262.5 295.8Z" fill="#0000ff"/><path d="M297.5 297.8L310.0 310.3L297.5 322.8L285.0 310.3Z" fill="#0000ff"/><path d="M320.0 312.4L332.5 324.9L320.0 337.4L307.5 324.9Z" fill="#0000ff"/><path d="M342.5 330.6L355.0 343.1L342.5 355.6L330.0 343.1Z" fill="#0000ff"/><path d="M365.0 345.2L377.5 357.7L365.0 370.2L352.5 357.7Z" fill="#0000ff"/><path d="M387.5 361.0L400.0 373.5L387.5 386.0L375.0 373.5Z" fill="#0000ff"/><path d="M410.0 376.8L422.5 389.3L410.0 401.8L397.5 389.3Z" fill="#0000ff"/><path d="M432.5 391.4L445.0 403.9L432.5 416.4L420.0 403.9Z" fill="#0000ff"/><path d="M455.0 406.0L467.5 418.5L455.0 431.0L442.5 418.5Z" fill="#0000ff"/><path d="M477.5 420.5L490.0 433.0L477.5 445.5L465.0 433.0Z" fill="#0000ff"/><path d="M500.0 436.0L512.5 448.5L500.0 461.0L487.5 448.5Z" fill="#0000ff"/><path d="M522.5 450.9L535.0 463.4L522.5 475.9L510.0 463.4Z" fill="#0000ff"/><path d="M545.0 466.0L557.5 478.5L545.0 491.0L532.5 478.5Z" fill="#0000ff"/><path d="M567.5 481.0L580.0 493.5L567.5 506.0L555.0 493.5Z" fill="#0000ff"/><path d="M590.0 496.1L602.5 508.6L590.0 521.1L577.5 508.6Z" fill="#0000ff"/><path d="M612.5 510.1L625.0 522.6L612.5 535.1L600.0 522.6Z" fill="#0000ff"/><path d="M635.0 521.9L647.5 534.4L635.0 546.9L622.5 534.4Z" fill="#0000ff"/><path d="M657.5 537.0L670.0 549.5L657.5 562.0L645.0 549.5Z" fill="#0000ff"/><path d="M680.0 552.0L692.5 564.5L680.0 577.0L667.5 564.5Z" fill="#0000ff"/><path d="M702.5 562.8L715.0 575.3L702.5 587.8L690.0 575.3Z" fill="#0000ff"/><path d="M725.0 578.0L737.5 590.5L725.0 603.0L712.5 590.5Z" fill="#0000ff"/><path d="M747.4 590.0L759.9 602.5L747.4 615.0L734.9 602.5Z" fill="#0000ff"/><path d="M769.8 600.8L782.3 613.3L769.8 625.8L757.3 613.3Z" fill="#0000ff"/><path d="M792.3 612.5L804.8 625.0L792.3 637.5L779.8 625.0Z" fill="#0000ff"/><path d="M814.7 624.1L827.2 636.6L814.7 649.1L802.2 636.6Z" fill="#0000ff"/><path d="M837.1 630.8L849.6 643.3L837.1 655.8L824.6 643.3Z" fill="#0000ff"/><path d="M859.5 638.3L872.0 650.8L859.5 663.3L847.0 650.8Z" fill="#0000ff"/><path d="M881.9 645.8L894.4 658.3L881.9 670.8L869.4 658.3Z" fill="#0000ff"/><path d="M904.4 653.3L916.9 665.8L904.4 678.3L891.9 665.8Z" fill="#0000ff"/><path d="M926.8 660.8L939.3 673.3L926.8 685.8L914.3 673.3Z" fill="#0000ff"/><path d="M949.2 664.5L961.7 677.0L949.2 689.5L936.7 677.0Z" fill="#0000ff"/><path d="M971.7 672.2L984.2 684.7L971.7 697.2L959.2 684.7Z" fill="#0000ff"/><path d="M994.1 675.9L1006.6 688.4L994.1 700.9L981.6 688.4Z" fill="#0000ff"/><path d="M1016.6 679.7L1029.1 692.2L1016.6 704.7L1004.1 692.2Z" fill="#0000ff"/><path d="M1039.0 683.4L1051.5 695.9L1039.0 708.4L1026.5 695.9Z" fill="#0000ff"/><path d="M1061.5 687.2L1074.0 699.7L1061.5 712.2L1049.0 699.7Z" fill="#0000ff"/><path d="M1084.0 690.9L1096.5 703.4L1084.0 715.9L1071.5 703.4Z" fill="#0000ff"/><path d="M1106.4 694.6L1118.9 707.1L1106.4 719.6L1093.9 707.1Z" fill="#0000ff"/><path d="M1128.9 698.4L1141.4 710.9L1128.9 723.4L1116.4 710.9Z" fill="#0000ff"/><path d="M1151.3 701.2L1163.8 713.7L1151.3 726.2L1138.8 713.7Z" fill="#0000ff"/><path d="M1173.8 705.5L1186.3 718.0L1173.8 730.5L1161.3 718.0Z" fill="#0000ff"/><path d="M1196.3 712.4L1208.8 724.9L1196.3 737.4L1183.8 724.9Z" fill="#0000ff"/><path d="M1218.7 716.9L1231.2 729.4L1218.7 741.9L1206.2 729.4Z" fill="#0000ff"/><path d="M1241.2 725.0L1253.7 737.5L1241.2 750.0L1228.7 737.5Z" fill="#0000ff"/><path d="M1263.6 732.2L1276.1 744.7L1263.6 757.2L1251.1 744.7Z" fill="#0000ff"/><path d="M1286.1 743.0L1298.6 755.5L1286.1 768.0L1273.6 755.5Z" fill="#0000ff"/><path d="M1308.5 752.0L1321.0 764.5L1308.5 777.0L1296.0 764.5Z" fill="#0000ff"/><path d="M1331.0 762.0L1343.5 774.5L1331.0 787.0L1318.5 774.5Z" fill="#0000ff"/><path d="M1353.4 772.8L1365.9 785.3L1353.4 797.8L1340.9 785.3Z" fill="#0000ff"/><path d="M1375.9 782.7L1388.4 795.2L1375.9 807.7L1363.4 795.2Z" fill="#0000ff"/><path d="M1398.3 795.3L1410.8 807.8L1398.3 820.3L1385.8 807.8Z" fill="#0000ff"/><path d="M1420.7 806.8L1433.2 819.3L1420.7 831.8L1408.2 819.3Z" fill="#0000ff"/><path d="M1443.1 817.5L1455.6 830.0L1443.1 842.5L1430.6 830.0Z" fill="#0000ff"/><path d="M1465.6 833.0L1478.1 845.5L1465.6 858.0L1453.1 845.5Z" fill="#0000ff"/><path d="M1488.0 843.7L1500.5 856.2L1488.0 868.7L1475.5 856.2Z" fill="#0000ff"/><path d="M1510.4 855.4L1522.9 867.9L1510.4 880.4L1497.9 867.9Z" fill="#0000ff"/><path d="M1533.6 870.0L1546.1 882.5L1533.6 895.0L1521.1 882.5Z" fill="#0000ff"/><path d="M1556.8 881.6L1569.3 894.1L1556.8 906.6L1544.3 894.1Z" fill="#0000ff"/><path d="M1579.9 893.3L1592.4 905.8L1579.9 918.3L1567.4 905.8Z" fill="#0000ff"/><path d="M1603.1 904.0L1615.6 916.5L1603.1 929.0L1590.6 916.5Z" fill="#0000ff"/><path d="M1626.3 915.9L1638.8 928.4L1626.3 940.9L1613.8 928.4Z" fill="#0000ff"/><path d="M1648.8 927.8L1661.3 940.3L1648.8 952.8L1636.3 940.3Z" fill="#0000ff"/><path d="M1671.4 933.6L1683.9 946.1L1671.4 958.6L1658.9 946.1Z" fill="#0000ff"/><path d="M1693.9 945.3L1706.4 957.8L1693.9 970.3L1681.4 957.8Z" fill="#0000ff"/><path d="M1716.5 961.5L1729.0 974.0L1716.5 986.5L1704.0 974.0Z" fill="#0000ff"/><path d="M1739.0 975.8L1751.5 988.3L1739.0 1000.8L1726.5 988.3Z" fill="#0000ff"/><path d="M1761.6 987.3L1774.1 999.8L1761.6 1012.3L1749.1 999.8Z" fill="#0000ff"/><path d="M1784.1 993.9L1796.6 1006.4L1784.1 1018.9L1771.6 1006.4Z" fill="#0000ff"/><path d="M1806.7 1004.9L1819.2 1017.4L1806.7 1029.9L1794.2 1017.4Z" fill="#0000ff"/><path d="M1829.2 1016.3L1841.7 1028.8L1829.2 1041.3L1816.7 1028.8Z" fill="#0000ff"/><path d="M263.0 317.6H287.0M275.0 305.6V329.6" stroke="#111" stroke-width="5" fill="none"/><path d="M285.5 328.6H309.5M297.5 316.6V340.6" stroke="#111" stroke-width="5" fill="none"/><path d="M308.0 349.2H332.0M320.0 337.2V361.2" stroke="#111" stroke-width="5" fill="none"/><path d="M330.5 362.6H354.5M342.5 350.6V374.6" stroke="#111" stroke-width="5" fill="none"/><path d="M353.0 377.2H377.0M365.0 365.2V389.2" stroke="#111" stroke-width="5" fill="none"/><path d="M375.5 391.7H399.5M387.5 379.7V403.7" stroke="#111" stroke-width="5" fill="none"/><path d="M398.0 405.1H422.0M410.0 393.1V417.1" stroke="#111" stroke-width="5" fill="none"/><path d="M420.5 420.9H444.5M432.5 408.9V432.9" stroke="#111" stroke-width="5" fill="none"/><path d="M443.0 436.7H467.0M455.0 424.7V448.7" stroke="#111" stroke-width="5" fill="none"/><path d="M465.5 451.3H489.5M477.5 439.3V463.3" stroke="#111" stroke-width="5" fill="none"/><path d="M488.0 466.8H512.0M500.0 454.8V478.8" stroke="#111" stroke-width="5" fill="none"/><path d="M510.5 481.7H534.5M522.5 469.7V493.7" stroke="#111" stroke-width="5" fill="none"/><path d="M533.0 496.7H557.0M545.0 484.7V508.7" stroke="#111" stroke-width="5" fill="none"/><path d="M555.5 511.8H579.5M567.5 499.8V523.8" stroke="#111" stroke-width="5" fill="none"/><path d="M578.0 531.2H602.0M590.0 519.2V543.2" stroke="#111" stroke-width="5" fill="none"/><path d="M600.5 545.1H624.5M612.5 533.1V557.1" stroke="#111" stroke-width="5" fill="none"/><path d="M623.0 560.2H647.0M635.0 548.2V572.2" stroke="#111" stroke-width="5" fill="none"/><path d="M645.5 572.0H669.5M657.5 560.0V584.0" stroke="#111" stroke-width="5" fill="none"/><path d="M668.0 590.3H692.0M680.0 578.3V602.3" stroke="#111" stroke-width="5" fill="none"/><path d="M690.5 605.4H714.5M702.5 593.4V617.4" stroke="#111" stroke-width="5" fill="none"/><path d="M713.0 620.6H737.0M725.0 608.6V632.6" stroke="#111" stroke-width="5" fill="none"/><path d="M735.4 632.5H759.4M747.4 620.5V644.5" stroke="#111" stroke-width="5" fill="none"/><path d="M757.8 646.6H781.8M769.8 634.6V658.6" stroke="#111" stroke-width="5" fill="none"/><path d="M780.3 661.6H804.3M792.3 649.6V673.6" stroke="#111" stroke-width="5" fill="none"/><path d="M802.7 676.6H826.7M814.7 664.6V688.6" stroke="#111" stroke-width="5" fill="none"/><path d="M825.1 691.6H849.1M837.1 679.6V703.6" stroke="#111" stroke-width="5" fill="none"/><path d="M847.5 706.6H871.5M859.5 694.6V718.6" stroke="#111" stroke-width="5" fill="none"/><path d="M869.9 721.6H893.9M881.9 709.6V733.6" stroke="#111" stroke-width="5" fill="none"/><path d="M892.4 733.2H916.4M904.4 721.2V745.2" stroke="#111" stroke-width="5" fill="none"/><path d="M914.8 748.2H938.8M926.8 736.2V760.2" stroke="#111" stroke-width="5" fill="none"/><path d="M937.2 763.3H961.2M949.2 751.3V775.3" stroke="#111" stroke-width="5" fill="none"/><path d="M959.7 778.3H983.7M971.7 766.3V790.3" stroke="#111" stroke-width="5" fill="none"/><path d="M982.1 789.6H1006.1M994.1 777.6V801.6" stroke="#111" stroke-width="5" fill="none"/><path d="M1004.6 804.6H1028.6M1016.6 792.6V816.6" stroke="#111" stroke-width="5" fill="none"/><path d="M1027.0 815.8H1051.0M1039.0 803.8V827.8" stroke="#111" stroke-width="5" fill="none"/><path d="M1049.5 830.8H1073.5M1061.5 818.8V842.8" stroke="#111" stroke-width="5" fill="none"/><path d="M1072.0 842.0H1096.0M1084.0 830.0V854.0" stroke="#111" stroke-width="5" fill="none"/><path d="M1094.4 853.3H1118.4M1106.4 841.3V865.3" stroke="#111" stroke-width="5" fill="none"/><path d="M1116.9 868.3H1140.9M1128.9 856.3V880.3" stroke="#111" stroke-width="5" fill="none"/><path d="M1139.3 883.3H1163.3M1151.3 871.3V895.3" stroke="#111" stroke-width="5" fill="none"/><path d="M1161.8 890.4H1185.8M1173.8 878.4V902.4" stroke="#111" stroke-width="5" fill="none"/><path d="M1184.3 908.8H1208.3M1196.3 896.8V920.8" stroke="#111" stroke-width="5" fill="none"/><path d="M1206.7 919.6H1230.7M1218.7 907.6V931.6" stroke="#111" stroke-width="5" fill="none"/><path d="M1229.2 934.1H1253.2M1241.2 922.1V946.1" stroke="#111" stroke-width="5" fill="none"/><path d="M1251.6 945.8H1275.6M1263.6 933.8V957.8" stroke="#111" stroke-width="5" fill="none"/><path d="M1274.1 957.5H1298.1M1286.1 945.5V969.5" stroke="#111" stroke-width="5" fill="none"/><path d="M1296.5 969.2H1320.5M1308.5 957.2V981.2" stroke="#111" stroke-width="5" fill="none"/><path d="M1319.0 979.2H1343.0M1331.0 967.2V991.2" stroke="#111" stroke-width="5" fill="none"/><path d="M1341.4 990.9H1365.4M1353.4 978.9V1002.9" stroke="#111" stroke-width="5" fill="none"/><path d="M1363.9 1001.7H1387.9M1375.9 989.7V1013.7" stroke="#111" stroke-width="5" fill="none"/><path d="M1386.3 1013.2H1410.3M1398.3 1001.2V1025.2" stroke="#111" stroke-width="5" fill="none"/><path d="M1408.7 1025.1H1432.7M1420.7 1013.1V1037.1" stroke="#111" stroke-width="5" fill="none"/><path d="M1431.1 1036.4H1455.1M1443.1 1024.4V1048.4" stroke="#111" stroke-width="5" fill="none"/><path d="M1453.6 1047.6H1477.6M1465.6 1035.6V1059.6" stroke="#111" stroke-width="5" fill="none"/><path d="M1476.0 1055.2H1500.0M1488.0 1043.2V1067.2" stroke="#111" stroke-width="5" fill="none"/><path d="M1498.4 1066.4H1522.4M1510.4 1054.4V1078.4" stroke="#111" stroke-width="5" fill="none"/><path d="M1521.6 1073.9H1545.6M1533.6 1061.9V1085.9" stroke="#111" stroke-width="5" fill="none"/><path d="M1544.8 1081.5H1568.8M1556.8 1069.5V1093.5" stroke="#111" stroke-width="5" fill="none"/><path d="M1567.9 1085.2H1591.9M1579.9 1073.2V1097.2" stroke="#111" stroke-width="5" fill="none"/><path d="M1591.1 1092.7H1615.1M1603.1 1080.7V1104.7" stroke="#111" stroke-width="5" fill="none"/><path d="M1614.3 1096.5H1638.3M1626.3 1084.5V1108.5" stroke="#111" stroke-width="5" fill="none"/><path d="M1636.8 1100.2H1660.8M1648.8 1088.2V1112.2" stroke="#111" stroke-width="5" fill="none"/><path d="M1659.4 1104.0H1683.4M1671.4 1092.0V1116.0" stroke="#111" stroke-width="5" fill="none"/><path d="M1681.9 1107.8H1705.9M1693.9 1095.8V1119.8" stroke="#111" stroke-width="5" fill="none"/><path d="M1704.5 1111.5H1728.5M1716.5 1099.5V1123.5" stroke="#111" stroke-width="5" fill="none"/><path d="M1727.0 1111.5H1751.0M1739.0 1099.5V1123.5" stroke="#111" stroke-width="5" fill="none"/><path d="M1749.6 1115.3H1773.6M1761.6 1103.3V1127.3" stroke="#111" stroke-width="5" fill="none"/><path d="M1772.1 1115.3H1796.1M1784.1 1103.3V1127.3" stroke="#111" stroke-width="5" fill="none"/><path d="M1794.7 1115.3H1818.7M1806.7 1103.3V1127.3" stroke="#111" stroke-width="5" fill="none"/><path d="M1817.2 1115.3H1841.2M1829.2 1103.3V1127.3" stroke="#111" stroke-width="5" fill="none"/></g><g font-family="&quot;Liberation Serif&quot;, &quot;Times New Roman&quot;, serif" font-weight="bold" font-size="70" text-anchor="end" fill="#000" stroke="#000" stroke-width="0.8" letter-spacing="1.8"><text x="219.5" y="1249.6">0</text><text x="219.5" y="1166.4">0.5</text><text x="219.5" y="1083.3">1</text><text x="219.5" y="1000.1">1.5</text><text x="219.5" y="916.9">2</text><text x="219.5" y="833.7">2.5</text><text x="219.5" y="750.6">3</text><text x="219.5" y="667.4">3.5</text><text x="219.5" y="584.2">4</text><text x="219.5" y="501.1">4.5</text><text x="219.5" y="417.9">5</text><text x="219.5" y="334.7">5.5</text><text x="219.5" y="251.6">6</text><text x="219.5" y="168.4">6.5</text><text x="219.5" y="85.2">7</text></g><g font-family="&quot;Liberation Serif&quot;, &quot;Times New Roman&quot;, serif" font-weight="bold" font-size="69.5" text-anchor="middle" fill="#000" stroke="#000" stroke-width="0.8" letter-spacing="1.6"><text x="275.5" y="1331">0.01</text><text x="725.0" y="1331">1</text><text x="1177.5" y="1331">100</text><text x="1627.2" y="1331">10000</text></g><text font-family="&quot;Liberation Serif&quot;, &quot;Times New Roman&quot;, serif" font-weight="bold" font-size="79" text-anchor="middle" x="1034.5" y="1393.5">f (Hz)</text><text font-family="&quot;Liberation Serif&quot;, &quot;Times New Roman&quot;, serif" font-weight="bold" font-size="79" text-anchor="middle" transform="translate(90.8 656.5) rotate(-90)">log|Z| (Ω)</text><path d="M356.0 632.2L368.0 656.8L344.0 656.8Z" fill="#00ff00"/><ellipse cx="356.0" cy="741.0" rx="11.6" ry="12" fill="#00ffff"/><path d="M345.5 827.0L366.5 848.0M366.5 827.0L345.5 848.0" stroke="#ff00ff" stroke-width="3" fill="none" opacity="0.8"/><path d="M356.0 826.5V848.5" stroke="#ff00ff" stroke-width="4.5" fill="none"/><rect x="345.0" y="923.0" width="22" height="22" fill="#ff0000"/><path d="M356.0 1018.0L368.5 1030.5L356.0 1043.0L343.5 1030.5Z" fill="#0000ff"/><path d="M344.0 1127.0H368.0M356.0 1115.0V1139.0" stroke="#111" stroke-width="5" fill="none"/><g font-family="&quot;Liberation Serif&quot;, &quot;Times New Roman&quot;, serif" font-weight="bold" font-size="70" fill="#000" stroke="#000" stroke-width="0.6"><text x="388" y="668.0">R1</text><text x="388" y="764.5">R2</text><text x="388" y="861.0">R3</text><text x="388" y="957.5">R4</text><text x="388" y="1054.0">R5</text><text x="388" y="1150.5">304 stainless steel</text></g></g></svg>
</body></html>
